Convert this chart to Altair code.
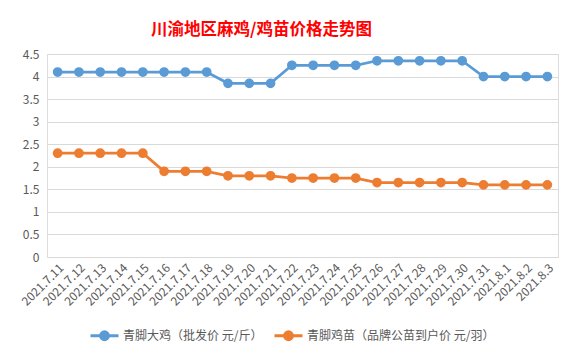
import altair as alt
import pandas as pd

dates = ["2021.7.11", "2021.7.12", "2021.7.13", "2021.7.14", "2021.7.15", "2021.7.16",
         "2021.7.17", "2021.7.18", "2021.7.19", "2021.7.20", "2021.7.21", "2021.7.22",
         "2021.7.23", "2021.7.24", "2021.7.25", "2021.7.26", "2021.7.27", "2021.7.28",
         "2021.7.29", "2021.7.30", "2021.7.31", "2021.8.1", "2021.8.2", "2021.8.3"]
chicken = [4.1, 4.1, 4.1, 4.1, 4.1, 4.1, 4.1, 4.1, 3.85, 3.85, 3.85, 4.25,
           4.25, 4.25, 4.25, 4.35, 4.35, 4.35, 4.35, 4.35, 4.0, 4.0, 4.0, 4.0]
chick = [2.3, 2.3, 2.3, 2.3, 2.3, 1.9, 1.9, 1.9, 1.8, 1.8, 1.8, 1.75,
         1.75, 1.75, 1.75, 1.65, 1.65, 1.65, 1.65, 1.65, 1.6, 1.6, 1.6, 1.6]
series = ["青脚大鸡（批发价 元/斤）", "青脚鸡苗（品牌公苗到户价 元/羽）"]
colors = ["#5B9BD5", "#ED7D31"]
y_ticks = [0, 0.5, 1, 1.5, 2, 2.5, 3, 3.5, 4, 4.5]

rows = []
for name, vals in zip(series, [chicken, chick]):
    for d, v in zip(dates, vals):
        rows.append({"date": d, "value": v, "series": name})
df = pd.DataFrame(rows)

cjk = "Noto Sans CJK SC"
scale = alt.Scale(domain=series, range=colors)
legend = alt.Legend(
    title=None, orient="none", legendX=42, legendY=266, direction="horizontal",
    symbolType="M-1,0L1,0M-0.28,0A0.28,0.28,0,1,1,0.28,0A0.28,0.28,0,1,1,-0.28,0Z",
    symbolSize=784, symbolStrokeWidth=3, symbolOpacity=1,
    labelFont=cjk, labelFontSize=12, labelColor="#595959", labelOffset=3,
    columnPadding=5, labelLimit=400,
)

x = alt.X("date:O", sort=dates, title=None,
          axis=alt.Axis(labelAngle=-45, labelFontSize=12, labelColor="#595959",
                        labelFont=cjk, ticks=False, domain=False, grid=False,
                        labelPadding=5))
y = alt.Y("value:Q", title=None, scale=alt.Scale(domain=[0, 4.5], nice=False),
          axis=alt.Axis(values=y_ticks, format=".1~f", labelFontSize=12,
                        labelColor="#595959", labelFont=cjk, ticks=False,
                        domain=False, gridColor="#D9D9D9", labelPadding=8))

base = alt.Chart(df)
lines = base.mark_line(strokeWidth=2.75).encode(
    x=x, y=y,
    stroke=alt.Stroke("series:N", scale=scale, legend=legend, sort=series),
)
points = base.mark_point(filled=True, size=60, opacity=1).encode(
    x=x, y=y,
    fill=alt.Fill("series:N", scale=scale, legend=legend, sort=series),
    stroke=alt.Stroke("series:N", scale=scale, legend=legend, sort=series),
)

chart = alt.layer(lines, points).properties(
    width=511, height=203,
    autosize=alt.AutoSizeParams(type="none"),
    padding={"left": 39, "top": 46, "right": 11, "bottom": 94},
    title=alt.TitleParams(
        "川渝地区麻鸡/鸡苗价格走势图", font=cjk, fontSize=16.5, fontWeight="bold",
        color="#FF0000", anchor="middle", dx=-41, offset=10,
    ),
).configure_view(stroke=None).configure(background="white")

chart.save("out.html", embed_options={"renderer": "svg", "actions": False})
